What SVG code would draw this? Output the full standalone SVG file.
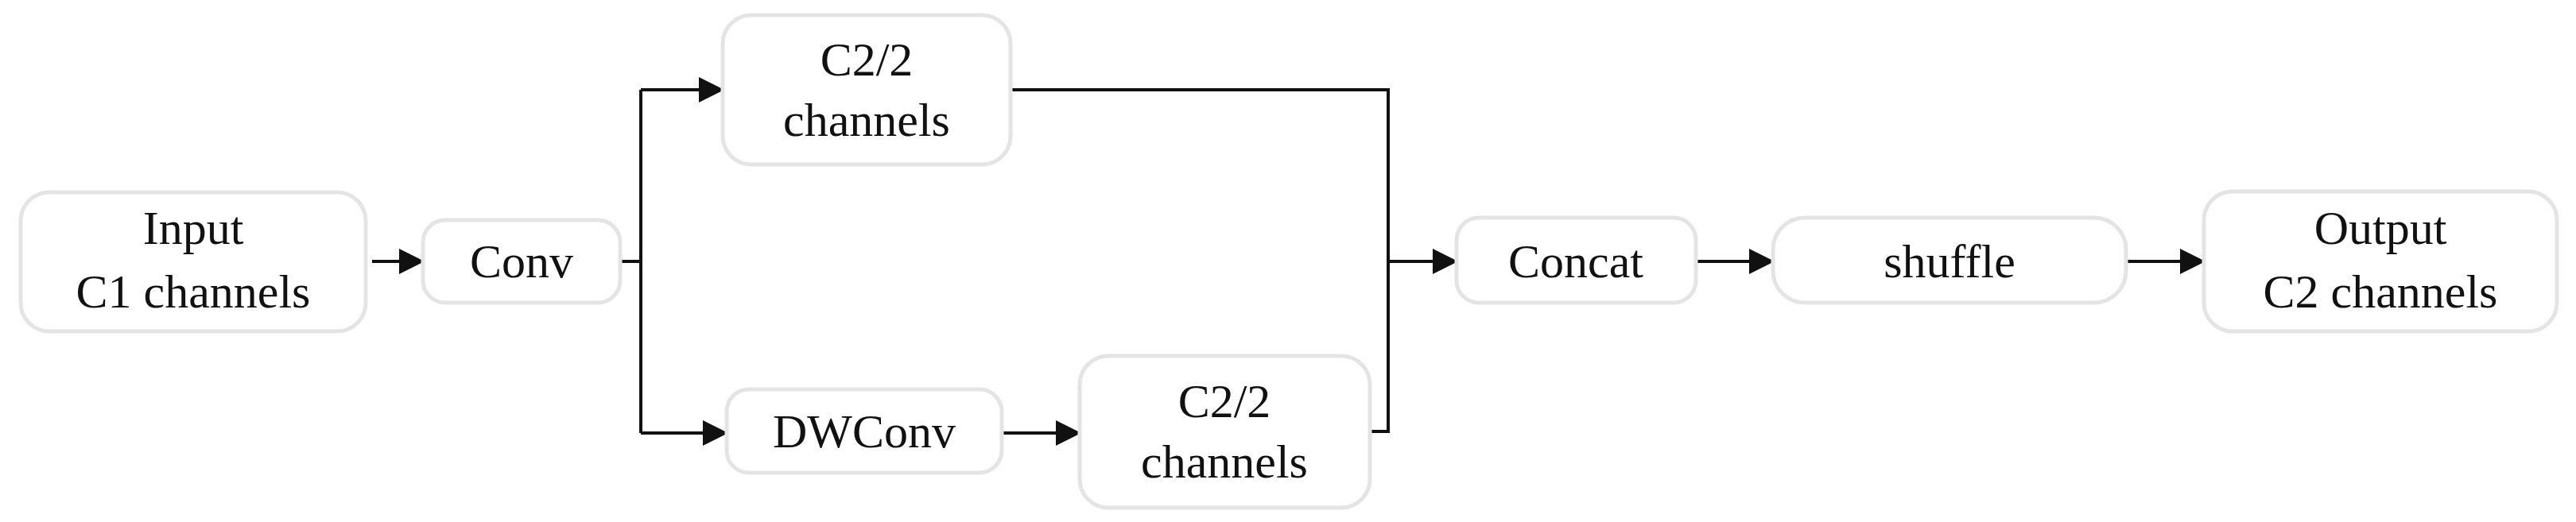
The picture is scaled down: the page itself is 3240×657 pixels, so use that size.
<svg xmlns="http://www.w3.org/2000/svg" width="3240" height="657" viewBox="0 0 3240 657">
<style>
.b{fill:#fff;stroke:#e4e4e4;stroke-width:5}
.t{font-family:"Liberation Serif",serif;font-size:60px;fill:#111;text-anchor:middle}
.c{fill:none;stroke:#111;stroke-width:4}
</style>
<defs><marker id="a" markerWidth="8" markerHeight="8" refX="7" refY="4" orient="auto" markerUnits="strokeWidth"><path d="M0,0L8,4L0,8z" fill="#111"/></marker></defs>
<rect width="3240" height="657" fill="#fff"/>
<g id="connectors">
<path class="c" d="M468,329H530" marker-end="url(#a)"/>
<path class="c" d="M780,329H806M806,545V113"/>
<path class="c" d="M806,113H907" marker-end="url(#a)"/>
<path class="c" d="M806,545H912" marker-end="url(#a)"/>
<path class="c" d="M1262,545H1356" marker-end="url(#a)"/>
<path class="c" d="M1271,113H1746V543H1723"/>
<path class="c" d="M1746,329H1830" marker-end="url(#a)"/>
<path class="c" d="M2133,329H2228" marker-end="url(#a)"/>
<path class="c" d="M2674,329H2770" marker-end="url(#a)"/>
</g>
<g id="input"><rect class="b" x="26" y="242" width="434" height="175" rx="36"/><text class="t" x="243" y="307">Input</text><text class="t" x="243" y="387">C1 channels</text></g>
<g id="conv"><rect class="b" x="532" y="277" width="248" height="104" rx="28"/><text class="t" x="656" y="349">Conv</text></g>
<g id="top"><rect class="b" x="909" y="19" width="362" height="188" rx="36"/><text class="t" x="1090" y="95">C2/2</text><text class="t" x="1090" y="171">channels</text></g>
<g id="dwconv"><rect class="b" x="914" y="490" width="346" height="105" rx="28"/><text class="t" x="1087" y="563">DWConv</text></g>
<g id="bottom"><rect class="b" x="1358" y="448" width="365" height="191" rx="36"/><text class="t" x="1540" y="525">C2/2</text><text class="t" x="1540" y="601">channels</text></g>
<g id="concat"><rect class="b" x="1832" y="274" width="301" height="107" rx="28"/><text class="t" x="1982" y="349">Concat</text></g>
<g id="shuffle"><rect class="b" x="2230" y="274" width="444" height="107" rx="40"/><text class="t" x="2452" y="349">shuffle</text></g>
<g id="output"><rect class="b" x="2772" y="241" width="444" height="176" rx="36"/><text class="t" x="2994" y="307">Output</text><text class="t" x="2994" y="387">C2 channels</text></g>
</svg>
